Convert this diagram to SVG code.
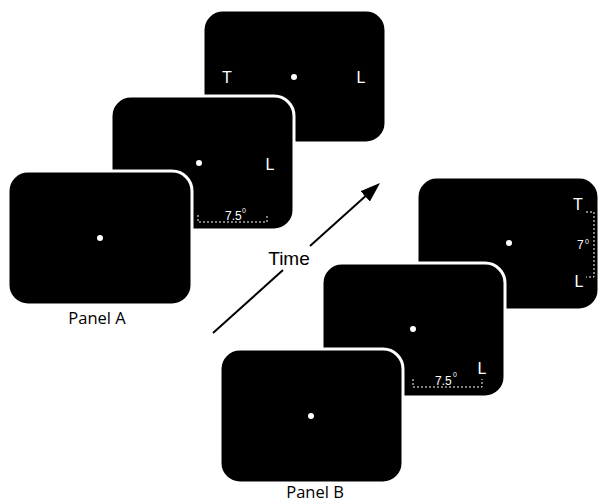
<svg xmlns="http://www.w3.org/2000/svg" width="599" height="504" viewBox="0 0 599 504">
<style>
.card{fill:#000;stroke:#fff;stroke-width:3}
.dot{fill:#fff}
.stim{fill:#fff;font-family:"Liberation Sans",Arial,sans-serif;font-size:16px}
.dim{fill:none;stroke:#fff;stroke-width:1;stroke-dasharray:2,2}
.dimt{fill:#fff;font-family:"Liberation Sans",Arial,sans-serif;font-size:12px}
.sup{fill:#fff;font-family:"Liberation Sans",Arial,sans-serif;font-size:7px}
.label{fill:#000;font-family:"Open Sans","Noto Sans",sans-serif;font-size:16.5px;text-anchor:middle}
.time{fill:#000;font-family:"Liberation Sans",Arial,sans-serif;font-size:19px;text-anchor:middle}
.arrow{stroke:#000;stroke-width:2;fill:none}
</style>
<defs>
<marker id="head" viewBox="0 0 20 14" refX="10" refY="7" markerWidth="20" markerHeight="14" markerUnits="userSpaceOnUse" orient="auto">
<path d="M0,0 L20,7 L0,14 z" fill="#000"/>
</marker>
</defs>

<g id="panelA-card3">
<rect class="card" x="203" y="10" width="183" height="133" rx="20"/>
<circle class="dot" cx="294" cy="77" r="3"/>
<text class="stim" x="227" y="83" text-anchor="middle">T</text>
<text class="stim" x="356.5" y="83">L</text>
</g>
<g id="panelA-card2">
<rect class="card" x="111" y="96" width="183" height="134" rx="20"/>
<circle class="dot" cx="199" cy="163" r="3"/>
<text class="stim" x="265.5" y="170">L</text>
<path class="dim" d="M198,215 V222 H267 V215"/>
<text class="dimt" x="225" y="220">7.5</text>
<text class="sup" x="242" y="213">0</text>
</g>
<g id="panelA-card1">
<rect class="card" x="8" y="171" width="184" height="134" rx="20"/>
<circle class="dot" cx="100" cy="238" r="3"/>
</g>
<g id="panelA-label">
<text class="label" x="97" y="324">Panel A</text>
</g>

<g id="panelB-card3">
<rect class="card" x="417" y="177" width="182" height="133" rx="20"/>
<circle class="dot" cx="509" cy="243" r="3"/>
<text class="stim" x="578" y="210" text-anchor="middle">T</text>
<text class="stim" x="574.5" y="287">L</text>
<path class="dim" d="M586,212 H594 V277 H586"/>
<text class="dimt" x="577" y="249">7</text>
<text class="sup" x="585" y="244">0</text>
</g>
<g id="panelB-card2">
<rect class="card" x="322" y="263" width="183" height="134" rx="20"/>
<circle class="dot" cx="413" cy="329" r="3"/>
<text class="stim" x="477.5" y="374">L</text>
<path class="dim" d="M413,379 V387 H482 V379"/>
<text class="dimt" x="435" y="385">7.5</text>
<text class="sup" x="453" y="377">0</text>
</g>
<g id="panelB-card1">
<rect class="card" x="220" y="349" width="183" height="134" rx="20"/>
<circle class="dot" cx="311" cy="416" r="3"/>
</g>
<g id="panelB-label">
<text class="label" x="315" y="498">Panel B</text>
</g>

<g id="connectors">
<line class="arrow" x1="213" y1="333" x2="283" y2="270"/>
<line class="arrow" x1="310" y1="246" x2="372.6" y2="189.7" marker-end="url(#head)"/>
<text class="time" x="289" y="265">Time</text>
</g>
</svg>
